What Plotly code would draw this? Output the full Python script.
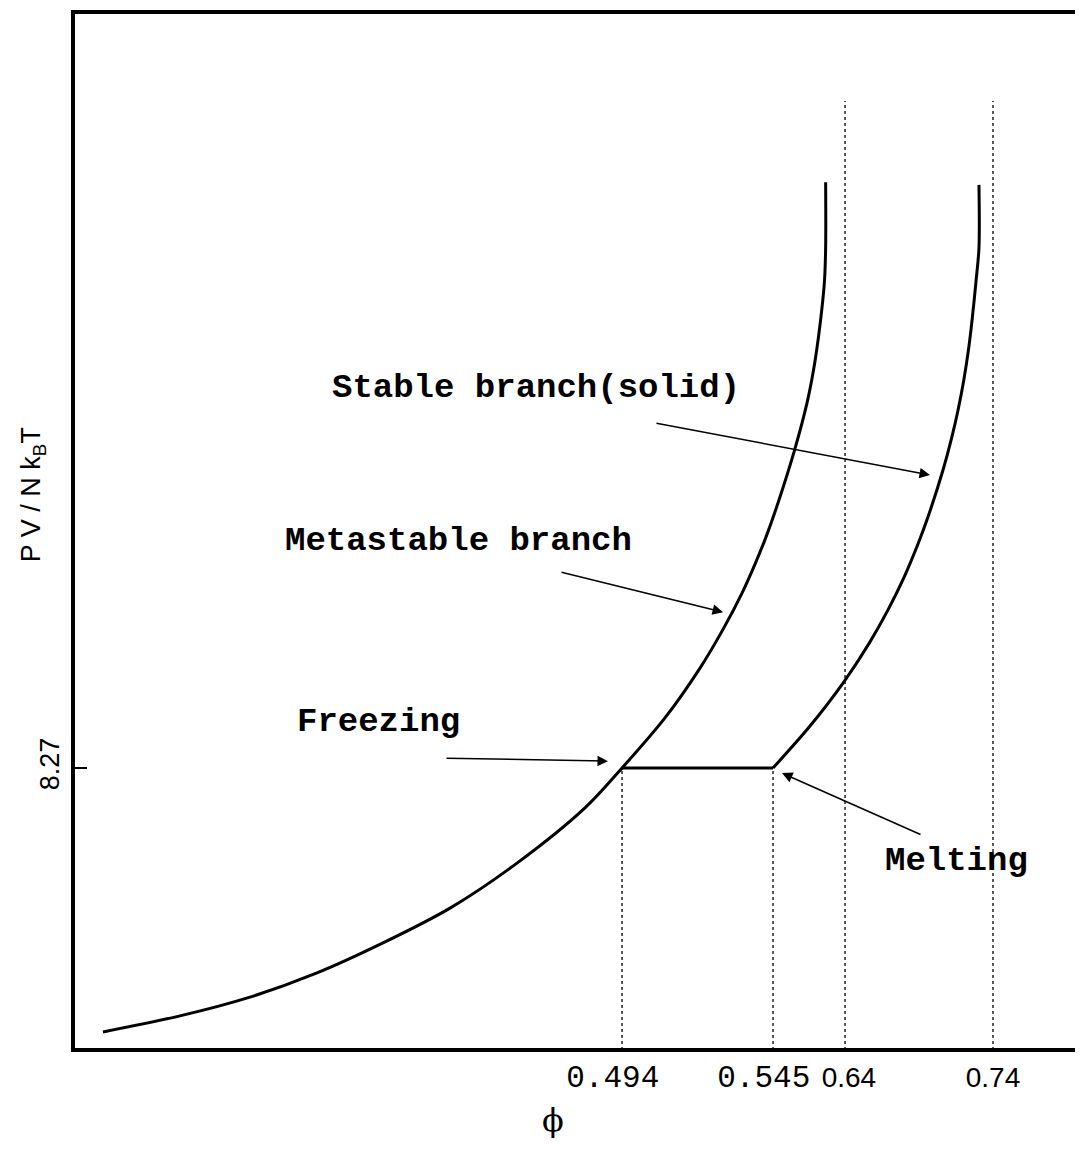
import plotly.graph_objects as go

# ---- schematic axis positions (x: 0..100 schematic units, y: reduced pressure) ----
phi_tick_pos = [54.36, 69.31, 76.44, 91.09]
phi_tick_labels = ["0.494", "0.545", "0.64", "0.74"]
p_tick_pos = [8.27]
p_tick_labels = ["8.27"]

# fluid + metastable branch
fluid_x = [2.97, 10.59, 17.52, 24.16, 30.69, 37.33, 43.96, 50.69, 54.36,
           58.61, 62.08, 64.33, 66.24, 67.57, 68.61, 69.80, 71.39, 72.67,
           73.32, 73.81, 74.21, 74.41, 74.52, 74.52]
fluid_y = [0.53, 1.00, 1.55, 2.26, 3.14, 4.16, 5.48, 7.10, 8.27,
           9.74, 11.20, 12.32, 13.40, 14.28, 15.04, 16.04, 17.54, 18.97,
           19.94, 20.91, 21.91, 22.58, 23.55, 25.45]

# stable solid branch
solid_x = [69.31, 72.97, 76.24, 78.85, 80.68, 82.29, 83.70, 84.65, 86.14,
           87.02, 87.63, 88.20, 88.70, 89.02, 89.42, 89.70, 89.70]
solid_y = [8.27, 9.50, 10.76, 11.94, 12.90, 13.87, 14.87, 15.63, 17.01,
           17.98, 18.77, 19.65, 20.62, 21.41, 22.58, 23.52, 25.37]

# coexistence (freezing -> melting)
coex_x = [54.36, 69.31]
coex_y = [8.27, 8.27]

# dotted reference lines: freezing/melting (up to coexistence) and limits 0.64, 0.74
ref_low_x = [54.36, 69.31]
ref_low_top = [8.27, 8.27]
ref_high_x = [76.44, 91.09]
ref_high_top = [27.83, 27.83]

fig = go.Figure()

for xv, top in zip(ref_low_x + ref_high_x, ref_low_top + ref_high_top):
    fig.add_trace(go.Scatter(x=[xv, xv], y=[0, top], mode="lines",
                             line=dict(color="#222222", width=1.5, dash="dot"),
                             showlegend=False, hoverinfo="skip"))

fig.add_trace(go.Scatter(x=fluid_x, y=fluid_y, mode="lines",
                         line=dict(color="black", width=3, shape="spline", smoothing=0.9),
                         showlegend=False))
fig.add_trace(go.Scatter(x=solid_x, y=solid_y, mode="lines",
                         line=dict(color="black", width=3, shape="spline", smoothing=0.9),
                         showlegend=False))
fig.add_trace(go.Scatter(x=coex_x, y=coex_y, mode="lines",
                         line=dict(color="black", width=3), showlegend=False))

mono = "Liberation Mono, Courier New, monospace"
sans = "Liberation Sans, Arial, sans-serif"
nb = "\u00a0"

tick_text = []
for lab in phi_tick_labels:
    if lab in ("0.494", "0.545"):
        tick_text.append(f"<span style='font-family:{mono};font-size:31px'>{lab}{nb}</span>")
    elif lab == "0.64":
        tick_text.append(nb + lab)
    else:
        tick_text.append(lab)

annotations = []
# text labels
for txt, x, y in [("Stable branch(solid)", 45.84, 19.41),
                  ("Metastable branch", 38.12, 14.93),
                  ("Freezing", 30.20, 9.62),
                  ("Melting", 87.43, 5.54)]:
    annotations.append(dict(text=f"<b>{txt}</b>", x=x, y=y, xref="x", yref="y",
                            showarrow=False, font=dict(family=mono, size=34, color="black")))
# arrows
for hx, hy, tx, ty in [(84.85, 16.86, 57.62, 18.39),
                       (64.36, 12.84, 48.22, 14.02),
                       (52.97, 8.47, 36.83, 8.56),
                       (70.20, 8.12, 84.06, 6.30)]:
    annotations.append(dict(text="", x=hx, y=hy, ax=tx, ay=ty, xref="x", yref="y",
                            axref="x", ayref="y", showarrow=True, arrowhead=2,
                            arrowsize=1.4, arrowwidth=1.5, arrowcolor="black", standoff=0))
# axis titles
annotations.append(dict(text="P V / N k<sub>B</sub>T", x=-0.040, y=0.535, xref="paper",
                        yref="paper", xanchor="center", yanchor="middle",
                        showarrow=False, textangle=-90,
                        font=dict(family=sans, size=27, color="black")))
annotations.append(dict(text="ϕ", x=0.475, y=-0.067, xref="paper", yref="paper",
                        xanchor="center", yanchor="middle",
                        showarrow=False, font=dict(family="DejaVu Serif", size=32, color="black")))

shapes = [
    dict(type="line", xref="paper", yref="paper", x0=0, x1=0, y0=-0.002, y1=1.002,
         line=dict(color="black", width=4)),
    dict(type="line", xref="paper", yref="paper", x0=-0.002, x1=1, y0=0, y1=0,
         line=dict(color="black", width=4)),
    dict(type="line", xref="paper", yref="paper", x0=-0.002, x1=1, y0=1, y1=1,
         line=dict(color="black", width=4)),
]

fig.update_layout(
    width=1075, height=1141,
    margin=dict(l=65, r=0, t=4, b=99),
    plot_bgcolor="white", paper_bgcolor="white",
    annotations=annotations, shapes=shapes,
    xaxis=dict(range=[0, 100], showgrid=False, zeroline=False, showline=False,
               tickmode="array", tickvals=phi_tick_pos, ticktext=tick_text,
               ticks="", tickangle=0, tickfont=dict(family=sans, size=28, color="black"),
               ticklabelstandoff=8),
    yaxis=dict(range=[0, 30.44], showgrid=False, zeroline=False, showline=False,
               tickmode="array", tickvals=p_tick_pos, ticktext=p_tick_labels,
               ticks="inside", ticklen=14, tickwidth=1.5, tickcolor="black",
               tickangle=-90, tickfont=dict(family=sans, size=27, color="black"),
               ticklabelstandoff=8),
)

fig.write_html("out.html")
